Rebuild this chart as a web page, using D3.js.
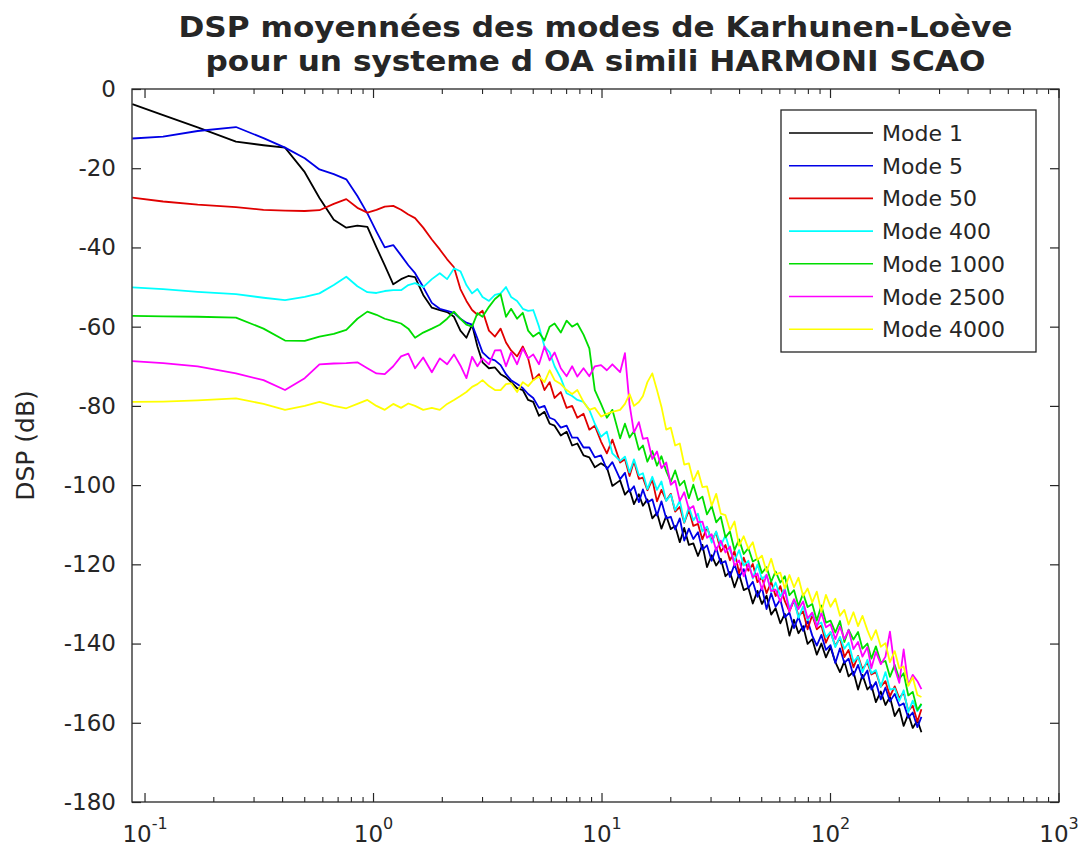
<!DOCTYPE html>
<html>
<head>
<meta charset="utf-8">
<script src="https://cdn.jsdelivr.net/npm/d3@7"></script>
<style>
  html, body { margin: 0; padding: 0; background: #fff; }
  svg { display: block; }
  text { font-family: "DejaVu Sans", sans-serif; fill: #262626; }
</style>
</head>
<body>
<svg id="chart" width="1085" height="850"></svg>
<script>
// Frequency grid (Hz) shared by all mode spectra
const freq = [
  0.088, 0.12, 0.17, 0.25, 0.33, 0.41, 0.5, 0.58, 0.67, 0.76,
  0.85, 0.94, 1.03, 1.12, 1.22, 1.32, 1.42, 1.52, 1.65, 1.8,
  1.95, 2.1, 2.25, 2.4, 2.55, 2.7, 2.85, 3.0, 3.2, 3.4,
  3.6, 3.8, 4.0, 4.25, 4.5, 4.75, 5.0, 5.3, 5.6, 5.9,
  6.2, 6.6, 7.0, 7.4, 7.8, 8.3, 8.8, 9.3, 9.9, 10.5,
  11.1,
  12, 12.6, 13.2, 13.8, 14.5, 15.1, 15.8, 16.6, 17.4, 18.2,
  19.1, 20, 20.9, 21.9, 22.9, 24, 25.1, 26.3, 27.5, 28.8,
  30.2, 31.6, 33.1, 34.7, 36.3, 38, 39.8, 41.7, 43.7, 45.7,
  47.9, 50.1, 52.5, 55, 57.5, 60.3, 63.1, 66.1, 69.2, 72.4,
  75.9, 79.4, 83.2, 87.1, 91.2, 95.5, 100, 105, 110, 115,
  120, 126, 132, 138, 145, 151, 158, 166, 174, 182,
  191, 200, 209, 219, 229, 240, 250
];

// Averaged PSD (dB) of each Karhunen-Loeve mode
const mode1 = [
  -3.8, -6.6, -9.7, -13.3, -14.2, -14.8, -21, -27.5, -33, -35,
  -34.5, -34.8, -40, -44.5, -49.3, -48, -47.2, -47.5, -52, -55.2,
  -55.8, -56.3, -57.5, -61, -62.8, -59.5, -65, -69, -70.5, -70.3,
  -72, -72.8, -74, -75.5, -76, -78.5, -79, -82.5, -81.5, -84.5,
  -85, -87.5, -86.5, -90, -89.5, -92.5, -93, -95.5, -94.5, -95.5,
  -100.2,
  -98.8, -102.4, -101.1, -104.8, -102.3, -105.2, -103.6, -108.4, -107.0, -111.0,
  -107.8, -111.1, -110.3, -114.4, -110.8, -115.1, -114.7, -117.9, -115.1, -120.7,
  -117.7, -120.3, -118.6, -123.0, -121.9, -125.8, -122.5, -126.5, -125.9, -129.9,
  -126.7, -130.0, -127.9, -132.7, -131.1, -134.9, -132.5, -138.0, -134.0, -137.4,
  -135.6, -140.1, -138.9, -142.8, -140.0, -143.5, -140.9, -144.7, -147.2, -144.5,
  -148.3, -147.1, -151.6, -147.9, -151.6, -150.5, -154.8, -152.1, -155.5, -153.5,
  -158.3, -156.4, -160.8, -157.8, -161.3, -159.4, -162.4
];
const mode5 = [
  -12.5, -12, -10.6, -9.6, -12.4, -14.8, -17.5, -20.3, -21.5, -22.8,
  -27, -31.4, -36, -40, -39.4, -42, -44.5, -46.5, -50, -54,
  -55.5, -56, -56.5, -58, -59, -59.5, -63, -66.5, -68, -68.5,
  -69.7, -72, -73.5, -74.5, -75.5, -77, -78, -80.5, -80, -83,
  -83.5, -85.5, -85, -88, -88, -90.5, -90.5, -93, -92.5, -96,
  -94.2,
  -98.5, -96.9, -101.7, -100.3, -104.3, -101.1, -104.4, -103.6, -107.7, -104.1,
  -108.4, -108.0, -111.2, -108.4, -114.0, -111.0, -113.6, -111.9, -116.3, -115.2,
  -119.1, -115.8, -119.8, -119.2, -123.2, -120.0, -123.3, -121.2, -126.0, -124.4,
  -128.2, -125.8, -131.3, -127.3, -130.7, -128.9, -133.4, -132.2, -136.1, -133.3,
  -136.8, -134.2, -138.0, -140.5, -137.8, -141.6, -140.4, -144.9, -141.2, -144.9,
  -143.8, -148.1, -145.4, -148.8, -146.8, -151.6, -149.7, -154.1, -151.1, -154.6,
  -152.7, -155.7, -155.1, -158.7, -157.4, -161.1, -158.5
];
const mode50 = [
  -27.4, -28.4, -29.2, -29.8, -30.5, -30.7, -30.8, -30.6, -29, -27.8,
  -30, -31.2, -30.5, -29.7, -29.5, -30.5, -31.7, -32.6, -35, -38,
  -40.5, -43, -45, -50.5, -53.5, -55.8, -57, -56, -61, -62.5,
  -60.5, -64, -66, -67.5, -65, -68, -73.5, -72, -76, -74,
  -78, -76.5, -80.5, -80, -83, -82, -86, -85, -89, -92,
  -88.5,
  -94.3, -93.5, -97.7, -94.0, -98.4, -98.1, -101.3, -98.6, -104.1, -101.2,
  -103.9, -102.2, -106.7, -105.5, -109.5, -106.3, -110.3, -109.8, -113.7, -110.6,
  -114.0, -111.9, -116.8, -115.1, -119.0, -116.7, -122.2, -118.3, -121.6, -119.9,
  -124.5, -123.3, -127.3, -124.4, -128.0, -125.5, -129.3, -131.9, -129.1, -133.0,
  -131.9, -136.4, -132.8, -136.4, -135.4, -139.8, -137.1, -140.6, -138.5, -143.4,
  -141.6, -146.0, -143.1, -146.5, -144.7, -147.8, -147.2, -150.9, -149.5, -153.3,
  -150.8, -153.8, -152.3, -157.0, -155.7, -159.7, -156.6
];
const mode400 = [
  -50.1, -50.5, -51.2, -51.8, -52.7, -53.3, -52.5, -51.6, -49.5, -47.4,
  -49.8, -51.3, -51.5, -51, -50.8, -50.8, -49.5, -49, -50, -48,
  -46.5, -48, -45.3, -46, -49.5, -51.6, -50.5, -52.5, -53.5, -52,
  -51.6, -50, -52.5, -53.5, -55.5, -56, -55.8, -60, -65, -66.5,
  -70, -73, -76.8, -77.5, -78.5, -79, -81, -84.5, -87.8, -86.5,
  -92,
  -93.9, -92.8, -96.8, -93.5, -97.5, -97.0, -101.0, -97.9, -101.2, -99.1,
  -104.0, -102.4, -106.3, -103.9, -109.4, -105.5, -108.9, -107.2, -111.7, -110.5,
  -114.5, -111.7, -115.3, -112.7, -116.5, -119.1, -116.4, -120.3, -119.1, -123.6,
  -120.0, -123.7, -122.7, -127.0, -124.6, -128.1, -126.1, -131.0, -129.1, -133.5,
  -130.6, -134.1, -132.3, -135.3, -134.7, -138.4, -137.1, -140.9, -138.3, -141.3,
  -139.8, -144.6, -143.3, -147.2, -144.1, -147.5, -146.7, -150.9, -147.2, -151.6,
  -151.3, -154.5, -151.8, -157.3, -154.4, -157.1, -155.4
];
const mode1000 = [
  -57.3, -57.4, -57.5, -57.7, -60.5, -63.5, -63.6, -62.5, -61.8, -60.8,
  -58, -56.2, -57, -58, -58.6, -59.2, -60.5, -62.8, -61.5, -60.5,
  -59.5, -58, -56.2, -58, -59.5, -60, -56.6, -57.5, -55, -53,
  -51.8, -57.5, -55.5, -58, -56.5, -61, -62.5, -61.5, -63.5, -60,
  -59.2, -61.5, -58.5, -60, -59.2, -62, -65.5, -76, -79.5, -83,
  -81,
  -88.2, -84.5, -88.0, -86.4, -91.1, -90.0, -94.1, -91.4, -95.1, -92.7,
  -96.5, -99.1, -96.3, -100.1, -98.9, -103.3, -99.9, -103.8, -102.9, -107.4,
  -105.3, -109.4, -108.0, -113.2, -111.7, -116.4, -113.7, -117.4, -115.9, -119.3,
  -118.6, -122.2, -120.7, -124.4, -121.8, -124.6, -123.0, -127.8, -126.5, -130.5,
  -127.4, -130.8, -130.0, -134.2, -130.4, -134.7, -134.2, -137.2, -134.3, -139.6,
  -136.5, -139.0, -137.1, -141.3, -140.0, -143.8, -140.7, -144.8, -144.4, -148.4,
  -145.4, -148.9, -147.5, -153.1, -152.2, -156.8, -155.2
];
const mode2500 = [
  -68.7, -69.2, -70, -71.8, -73.5, -76, -73, -69.5, -69.3, -69.2,
  -69, -70.5, -71.8, -72, -70, -67.5, -66.8, -70.5, -67.8, -71.5,
  -68, -69.5, -67, -69.8, -73, -67.6, -70, -68, -69.5, -66,
  -65.9, -70, -66.5, -69.5, -65.5, -68, -67, -69.5, -65, -68.5,
  -66.5, -70.5, -72.5, -70, -72.6, -70.5, -72.5, -70, -69.7, -71,
  -69.5,
  -71.5, -66.7, -79.7, -86.7, -84.1, -88.3, -88.1, -93.4, -91.5, -95.7,
  -94.3, -99.9, -98.9, -104.0, -101.8, -106.1, -105.3, -109.4, -109.2, -113.3,
  -112.4, -116.5, -114.0, -117.0, -115.5, -120.3, -119.0, -123.0, -119.9, -123.3,
  -122.3, -126.4, -122.6, -126.8, -126.4, -129.4, -126.5, -131.9, -128.8, -131.3,
  -129.4, -133.6, -132.2, -135.8, -132.3, -135.9, -135.1, -138.9, -135.7, -138.9,
  -136.6, -141.4, -139.6, -143.3, -140.9, -146.2, -142.1, -145.2, -143.3, -137.0,
  -146.2, -149.9, -141.5, -150.5, -147.9, -149.5, -151.5
];
const mode4000 = [
  -79, -78.9, -78.6, -78.1, -79.5, -81, -80, -79, -80, -80.6,
  -79.5, -78.5, -80, -81, -79.5, -80.5, -79.4, -80, -81, -80.5,
  -81, -79.5, -78.5, -77.5, -76.5, -75.2, -74.5, -73.5, -75, -76,
  -76, -74.5, -74.3, -76.5, -74, -75, -73.5, -72.6, -74, -71,
  -73.5, -74.5, -76, -77, -76, -79, -81, -80.5, -82.7, -82,
  -81.5,
  -81.0, -79.5, -77.0, -80.0, -79.0, -77.5, -74.0, -71.8, -76.0, -80.2,
  -86.0, -85.5, -90.0, -89.5, -94.8, -94.5, -99.0, -96.4, -100.5, -100.3,
  -105.2, -102.2, -107.2, -107.6, -111.4, -109.2, -115.3, -112.9, -116.1, -114.4,
  -118.9, -117.8, -121.8, -118.6, -122.6, -122.1, -126.1, -122.7, -125.8, -123.4,
  -128.0, -126.1, -129.6, -126.9, -132.0, -127.7, -130.7, -128.7, -133.0, -131.5,
  -135.2, -132.1, -135.6, -133.0, -136.6, -139.1, -136.6, -140.8, -139.9, -144.7,
  -141.9, -146.3, -145.8, -150.7, -148.5, -153.0, -153.5
];

const seriesNames = ["Mode 1", "Mode 5", "Mode 50", "Mode 400", "Mode 1000", "Mode 2500", "Mode 4000"];
const seriesValues = [mode1, mode5, mode50, mode400, mode1000, mode2500, mode4000];
const seriesColors = ["#000000", "#0000e6", "#e00000", "#00ffff", "#00dd00", "#ff00ff", "#ffff00"];

const yTicks = [-180, -160, -140, -120, -100, -80, -60, -40, -20, 0];
const xDecades = [-1, 0, 1, 2, 3];

const titleLines = [
  "DSP moyennées des modes de Karhunen-Loève",
  "pour un systeme d OA simili HARMONI SCAO"
];
const yLabel = "DSP (dB)";

// ---- layout ----
const svg = d3.select("#chart");
const plot = { left: 132, right: 1059, top: 89, bottom: 802 };

const x = d3.scaleLog().domain([0.0877, 1000]).range([plot.left, plot.right]);
const y = d3.scaleLinear().domain([-180, 0]).range([plot.bottom, plot.top]);

// clip so lines stay inside the axes box
svg.append("defs").append("clipPath").attr("id", "clip")
  .append("rect")
  .attr("x", plot.left).attr("y", plot.top)
  .attr("width", plot.right - plot.left).attr("height", plot.bottom - plot.top);

// spectra, drawn in order so the highest modes sit on top
const line = d3.line().x((d, i) => x(freq[i])).y(d => y(d));
const gLines = svg.append("g").attr("clip-path", "url(#clip)");
seriesValues.forEach((vals, k) => {
  gLines.append("path")
    .datum(vals)
    .attr("d", line)
    .attr("fill", "none")
    .attr("stroke", seriesColors[k])
    .attr("stroke-width", 1.8)
    .attr("stroke-linejoin", "round");
});

// axes box
svg.append("rect")
  .attr("x", plot.left).attr("y", plot.top)
  .attr("width", plot.right - plot.left).attr("height", plot.bottom - plot.top)
  .attr("fill", "none").attr("stroke", "#262626").attr("stroke-width", 1.3);

// y ticks (inward, both sides) and labels
const yAxisL = d3.axisLeft(y).tickValues(yTicks).tickSize(-9).tickPadding(16).tickFormat(d => String(d));
const yAxisR = d3.axisRight(y).tickValues(yTicks).tickSize(-9).tickFormat("");
const gyl = svg.append("g").attr("transform", `translate(${plot.left},0)`).call(yAxisL);
const gyr = svg.append("g").attr("transform", `translate(${plot.right},0)`).call(yAxisR);
[gyl, gyr].forEach(g => {
  g.select(".domain").remove();
  g.selectAll(".tick line").attr("stroke", "#262626").attr("stroke-width", 1.2);
});
gyl.selectAll(".tick text")
  .style("font-family", "DejaVu Sans, sans-serif")
  .style("font-size", "23px")
  .attr("fill", "#262626");

// x ticks: majors at decades, minors at 2..9
const minorTicks = [];
xDecades.slice(0, -1).forEach(e => {
  for (let m = 2; m <= 9; m++) minorTicks.push(m * Math.pow(10, e));
});
const majorTicks = xDecades.map(e => Math.pow(10, e));

const gx = svg.append("g");
[[plot.bottom, -1], [plot.top, 1]].forEach(([yy, dir]) => {
  gx.selectAll(null).data(majorTicks).enter().append("line")
    .attr("x1", d => x(d)).attr("x2", d => x(d))
    .attr("y1", yy).attr("y2", yy + dir * 9)
    .attr("stroke", "#262626").attr("stroke-width", 1.2);
  gx.selectAll(null).data(minorTicks).enter().append("line")
    .attr("x1", d => x(d)).attr("x2", d => x(d))
    .attr("y1", yy).attr("y2", yy + dir * 5)
    .attr("stroke", "#262626").attr("stroke-width", 1.1);
});

// decade labels 10^n
const xl = svg.append("g");
xDecades.forEach(e => {
  const t = xl.append("text")
    .attr("x", x(Math.pow(10, e)))
    .attr("y", 842)
    .attr("text-anchor", "middle")
    .style("font-size", "23px");
  t.append("tspan").text("10");
  t.append("tspan").attr("dy", -13).style("font-size", "16px").text(String(e));
});

// y axis title
svg.append("text")
  .attr("transform", `translate(34,${(plot.top + plot.bottom) / 2}) rotate(-90)`)
  .attr("text-anchor", "middle")
  .style("font-size", "25px")
  .text(yLabel);

// title
const titleX = (plot.left + plot.right) / 2;
const titleWidths = [834, 780];
titleLines.forEach((s, i) => {
  svg.append("text")
    .attr("x", titleX).attr("y", 37 + i * 34)
    .attr("text-anchor", "middle")
    .attr("textLength", titleWidths[i])
    .attr("lengthAdjust", "spacingAndGlyphs")
    .style("font-size", "29px")
    .style("font-weight", "bold")
    .attr("fill", "#000")
    .text(s);
});

// legend
const leg = { x: 781, y: 110, w: 255, h: 242, row: 32.7, first: 133 };
const gl = svg.append("g");
gl.append("rect")
  .attr("x", leg.x).attr("y", leg.y).attr("width", leg.w).attr("height", leg.h)
  .attr("fill", "#fff").attr("stroke", "#262626").attr("stroke-width", 1.3);
seriesNames.forEach((name, k) => {
  const yy = leg.first + k * leg.row;
  gl.append("line")
    .attr("x1", 789).attr("x2", 873).attr("y1", yy).attr("y2", yy)
    .attr("stroke", seriesColors[k]).attr("stroke-width", 1.6);
  gl.append("text")
    .attr("x", 882).attr("y", yy + 8)
    .style("font-size", "22px")
    .text(name);
});
</script>
</body>
</html>
